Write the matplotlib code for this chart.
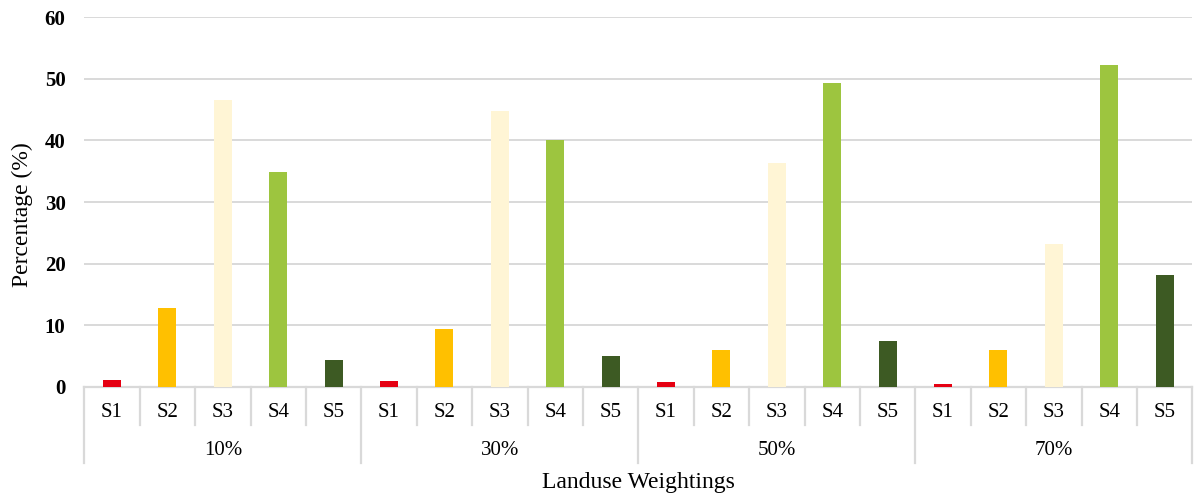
import matplotlib.pyplot as plt
import matplotlib.transforms as mtransforms

# Data
weightings = ["10%", "30%", "50%", "70%"]
classes = ["S1", "S2", "S3", "S4", "S5"]
values = {
    "10%": [1.1, 12.8, 46.6, 34.9, 4.4],
    "30%": [0.9, 9.3, 44.7, 40.0, 5.0],
    "50%": [0.7, 6.0, 36.3, 49.4, 7.5],
    "70%": [0.5, 6.0, 23.1, 52.3, 18.1],
}
class_colors = ["#E50012", "#FFC000", "#FFF5D5", "#9DC53F", "#3D5A23"]

serif = ["Liberation Serif", "DejaVu Serif"]
grid_c = "#D9D9D9"

fig = plt.figure(figsize=(11.95, 4.94), dpi=100)
ax = fig.add_axes([84.3 / 1195, (494 - 386.7) / 494, 1108 / 1195, 369.4 / 494])

n_cls = len(classes)
for g, w in enumerate(weightings):
    xs = [g * n_cls + i for i in range(n_cls)]
    ax.bar(xs, values[w], width=0.325, color=class_colors, zorder=3)

ax.set_xlim(-0.5, len(weightings) * n_cls - 0.5)
ax.set_ylim(0, 60)
ax.set_yticks(range(0, 61, 10))
ax.yaxis.grid(True, color=grid_c, linewidth=1.4, zorder=0)
ax.set_axisbelow(True)
for s in ["top", "right", "left"]:
    ax.spines[s].set_visible(False)
ax.spines["bottom"].set_color(grid_c)
ax.spines["bottom"].set_linewidth(1.6)
ax.tick_params(axis="y", length=0, pad=13.5)
ax.tick_params(axis="x", length=0, labelbottom=False)
for lbl in ax.get_yticklabels():
    lbl.set_family(serif)
    lbl.set_fontweight("bold")
    lbl.set_fontsize(15)

# Two-level category axis: class labels, then weighting groups
trans = mtransforms.blended_transform_factory(ax.transData, ax.transAxes)
total = len(weightings) * n_cls
for k in range(total + 1):
    x = k - 0.5
    y_end = -0.2065 if k % n_cls == 0 else -0.1037
    ax.plot([x, x], [0, y_end], transform=trans, color=grid_c,
            linewidth=1.6, clip_on=False)
for g, w in enumerate(weightings):
    for i, c in enumerate(classes):
        ax.text(g * n_cls + i, -0.0685, c, transform=trans, ha="center",
                va="center", fontsize=15, family=serif)
    ax.text(g * n_cls + (n_cls - 1) / 2, -0.1727, w, transform=trans,
            ha="center", va="center", fontsize=15, family=serif)

ax.text(0.5, -0.2593, "Landuse Weightings", transform=ax.transAxes,
        ha="center", va="center", fontsize=17, family=serif)
fig.text(22 / 1195, (494 - 214.5) / 494, "Percentage (%)", rotation=90,
         ha="center", va="center", fontsize=17, family=serif)

fig.savefig("out.png", dpi=100)
